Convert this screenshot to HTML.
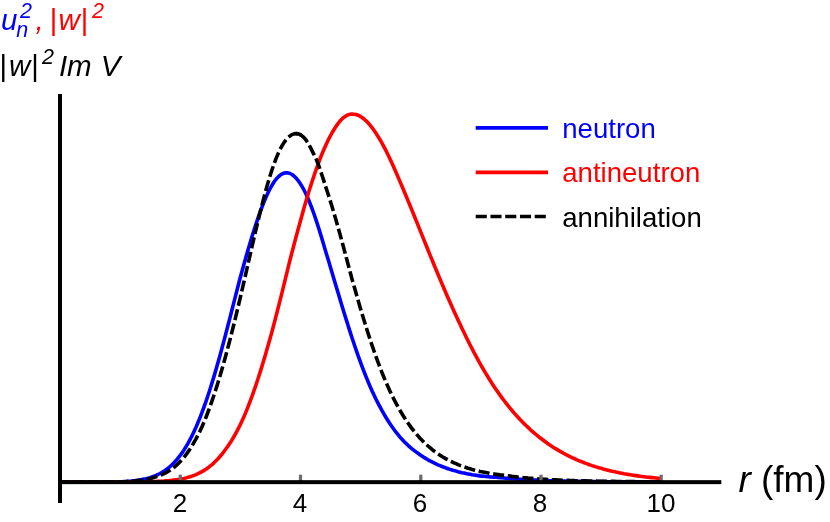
<!DOCTYPE html>
<html><head><meta charset="utf-8"><title>chart</title>
<style>
html,body{margin:0;padding:0;background:#fff;}
svg{display:block;}
text{font-family:"Liberation Sans",sans-serif;}
.it{font-style:italic;}
</style></head><body>
<svg width="830" height="522" viewBox="0 0 830 522" style="will-change:transform">
<rect width="830" height="522" fill="#fff"/>
<g fill="none" stroke-width="3.6" stroke-linejoin="round">
<path d="M60,482.0 62,482.0 64,482.0 66,482.0 68,482.0 70,482.0 72,482.0 74,482.0 76,482.0 78,482.0 80,482.0 82,482.0 84,482.0 86,482.0 88,482.0 90,482.0 92,482.0 94,482.0 96,482.0 98,481.9 100,481.9 102,481.9 104,481.9 106,481.9 108,481.9 110,481.9 112,481.9 114,481.9 116,481.9 118,481.8 120,481.8 122,481.7 124,481.6 126,481.5 128,481.4 130,481.2 132,481.0 134,480.8 136,480.5 138,480.2 140,479.9 142,479.5 144,479.1 146,478.7 148,478.2 150,477.6 152,476.9 154,476.2 156,475.4 158,474.5 160,473.5 162,472.4 164,471.1 166,469.7 168,468.2 170,466.6 172,464.7 174,462.7 176,460.6 178,458.2 180,455.7 182,452.9 184,449.9 186,446.7 188,443.3 190,439.6 192,435.7 194,431.6 196,427.2 198,422.5 200,417.6 202,412.4 204,407.0 206,401.4 208,395.5 210,389.3 212,382.9 214,376.4 216,369.6 218,362.6 220,355.4 222,348.1 224,340.6 226,333.0 228,325.3 230,317.6 232,309.8 234,301.9 236,294.1 238,286.3 240,278.5 242,271.2 244,264.0 246,256.9 248,250.0 250,243.2 252,236.6 254,230.2 256,224.0 258,218.1 260,212.4 262,207.0 264,201.9 266,197.2 268,192.8 270,188.8 272,185.2 274,182.0 276,179.3 278,177.1 280,175.3 282,174.0 284,173.1 286,172.8 288,172.9 290,173.5 292,174.5 294,176.0 296,178.0 298,180.4 300,183.2 302,186.4 304,190.0 306,194.0 308,198.5 310,203.3 312,208.5 314,214.0 316,219.9 318,226.0 320,232.4 322,239.0 324,245.8 326,252.5 328,259.1 330,265.7 332,272.4 334,279.2 336,285.9 338,292.6 340,299.3 342,305.9 344,312.5 346,318.9 348,325.3 350,331.6 352,337.7 354,343.7 356,349.6 358,355.3 360,360.9 362,366.3 364,371.5 366,376.6 368,381.5 370,386.3 372,390.8 374,395.0 376,399.2 378,403.1 380,406.9 382,410.6 384,414.1 386,417.5 388,420.7 390,423.8 392,426.7 394,429.5 396,432.2 398,434.7 400,437.1 402,439.3 404,441.4 406,443.4 408,445.3 410,447.1 412,448.8 414,450.4 416,451.9 418,453.3 420,454.7 422,456.1 424,457.4 426,458.6 428,459.8 430,460.9 432,461.9 434,462.9 436,463.9 438,464.8 440,465.6 442,466.5 444,467.2 446,468.0 448,468.7 450,469.4 452,470.0 454,470.6 456,471.1 458,471.7 460,472.2 462,472.7 464,473.1 466,473.5 468,473.9 470,474.3 472,474.7 474,475.0 476,475.3 478,475.6 480,475.9 482,476.1 484,476.3 486,476.5 488,476.7 490,476.9 492,477.0 494,477.2 496,477.3 498,477.4 500,477.6 502,477.8 504,478.0 506,478.2 508,478.3 510,478.5 512,478.7 514,478.8 516,479.0 518,479.1 520,479.3 522,479.4 524,479.5 526,479.6 528,479.7 530,479.8 532,479.9 534,480.0 536,480.1 538,480.2 540,480.3 542,480.4 544,480.5 546,480.5 548,480.6 550,480.7 552,480.7 554,480.8 556,480.8 558,480.9 560,481.0 562,481.0 564,481.0 566,481.1 568,481.1 570,481.2 572,481.2 574,481.3 576,481.3 578,481.3 580,481.4 582,481.4 584,481.4 586,481.4 588,481.5 590,481.5 592,481.5 594,481.5 596,481.6 598,481.6 600,481.6 602,481.6 604,481.6 606,481.7 608,481.7 610,481.7 612,481.7 614,481.7 616,481.7 618,481.7 620,481.8 622,481.8 624,481.8 626,481.8 628,481.8 630,481.8 632,481.8 634,481.8 636,481.8 638,481.8 640,481.8 642,481.9 644,481.9 646,481.9 648,481.9 650,481.9 652,481.9 654,481.9 656,481.9 658,481.9 660,481.9 661,481.9" stroke="#0000ff"/>
<path d="M60,482.0 62,482.0 64,482.0 66,482.0 68,482.0 70,482.0 72,482.0 74,482.0 76,482.0 78,482.0 80,482.0 82,482.0 84,482.0 86,482.0 88,482.0 90,482.0 92,482.0 94,482.0 96,482.0 98,482.0 100,482.0 102,482.0 104,482.0 106,482.0 108,482.0 110,482.0 112,482.0 114,482.0 116,482.0 118,482.0 120,482.0 122,482.0 124,482.0 126,482.0 128,481.9 130,481.9 132,481.9 134,481.9 136,481.9 138,481.9 140,481.9 142,481.8 144,481.8 146,481.8 148,481.7 150,481.7 152,481.6 154,481.6 156,481.5 158,481.4 160,481.3 162,481.2 164,481.1 166,480.9 168,480.8 170,480.6 172,480.4 174,480.1 176,479.8 178,479.5 180,479.2 182,478.8 184,478.4 186,477.9 188,477.3 190,476.8 192,476.1 194,475.4 196,474.6 198,473.7 200,472.7 202,471.6 204,470.4 206,469.2 208,467.8 210,466.2 212,464.6 214,462.8 216,460.8 218,458.8 220,456.5 222,454.1 224,451.5 226,448.8 228,446.0 230,443.0 232,439.9 234,436.5 236,433.0 238,429.2 240,425.2 242,421.0 244,416.6 246,411.9 248,406.9 250,401.7 252,396.3 254,390.7 256,384.8 258,378.8 260,372.6 262,366.1 264,359.5 266,352.8 268,345.8 270,338.7 272,331.4 274,324.0 276,316.3 278,308.5 280,300.6 282,292.6 284,284.5 286,276.3 288,268.1 290,260.0 292,252.3 294,244.7 296,237.1 298,229.7 300,222.4 302,215.2 304,208.1 306,201.2 308,194.5 310,188.0 312,181.7 314,175.7 316,169.8 318,164.3 320,159.0 322,153.9 324,149.2 326,144.7 328,140.4 330,136.5 332,132.9 334,129.5 336,126.4 338,123.6 340,121.1 342,119.0 344,117.2 346,115.9 348,114.9 350,114.3 352,114.1 354,114.2 356,114.5 358,115.2 360,116.2 362,117.5 364,119.0 366,120.8 368,122.8 370,125.1 372,127.6 374,130.3 376,133.3 378,136.4 380,139.7 382,143.2 384,146.9 386,150.7 388,154.8 390,159.0 392,163.3 394,167.7 396,172.3 398,176.9 400,181.6 402,186.3 404,191.0 406,195.8 408,200.6 410,205.5 412,210.4 414,215.3 416,220.2 418,225.1 420,230.1 422,235.1 424,240.1 426,245.0 428,250.0 430,254.9 432,259.8 434,264.7 436,269.5 438,274.3 440,279.1 442,283.8 444,288.5 446,293.2 448,297.8 450,302.3 452,306.8 454,311.2 456,315.6 458,319.9 460,324.1 462,328.4 464,332.6 466,336.7 468,340.8 470,344.7 472,348.6 474,352.5 476,356.2 478,359.9 480,363.5 482,367.0 484,370.4 486,373.8 488,377.0 490,380.2 492,383.4 494,386.4 496,389.4 498,392.3 500,395.1 502,397.9 504,400.5 506,403.1 508,405.7 510,408.1 512,410.5 514,412.9 516,415.1 518,417.3 520,419.5 522,421.5 524,423.6 526,425.5 528,427.4 530,429.3 532,431.1 534,432.8 536,434.5 538,436.2 540,437.8 542,439.3 544,440.8 546,442.3 548,443.7 550,445.1 552,446.4 554,447.7 556,448.9 558,450.1 560,451.3 562,452.4 564,453.5 566,454.6 568,455.6 570,456.6 572,457.6 574,458.5 576,459.4 578,460.3 580,461.1 582,461.9 584,462.7 586,463.4 588,464.2 590,464.9 592,465.6 594,466.2 596,466.9 598,467.5 600,468.1 602,468.6 604,469.2 606,469.7 608,470.2 610,470.7 612,471.2 614,471.6 616,472.1 618,472.5 620,472.9 622,473.3 624,473.7 626,474.0 628,474.4 630,474.7 632,475.0 634,475.4 636,475.6 638,475.9 640,476.2 642,476.5 644,476.7 646,477.0 648,477.2 650,477.4 652,477.6 654,477.8 656,478.0 658,478.2 660,478.4 661,478.5" stroke="#ff0000"/>
<path d="M60,482.0 62,482.0 64,482.0 66,482.0 68,482.0 70,482.0 72,482.0 74,482.0 76,482.0 78,482.0 80,482.0 82,482.0 84,482.0 86,482.0 88,482.0 90,482.0 92,482.0 94,482.0 96,482.0 98,482.0 100,482.0 102,482.0 104,482.0 106,482.0 108,482.0 110,482.0 112,481.9 114,481.9 116,481.9 118,481.9 120,481.9 122,481.8 124,481.7 126,481.6 128,481.4 130,481.3 132,481.1 134,481.0 136,480.8 138,480.5 140,480.3 142,480.0 144,479.6 146,479.2 148,478.8 150,478.4 152,477.9 154,477.4 156,476.8 158,476.1 160,475.4 162,474.6 164,473.7 166,472.7 168,471.5 170,470.3 172,468.9 174,467.4 176,465.7 178,463.8 180,461.8 182,459.6 184,457.3 186,454.7 188,451.9 190,449.0 192,445.8 194,442.4 196,438.9 198,435.0 200,431.0 202,426.7 204,422.1 206,417.2 208,412.0 210,406.6 212,400.9 214,395.0 216,388.9 218,382.5 220,375.9 222,369.0 224,362.0 226,354.7 228,347.2 230,339.6 232,331.8 234,323.8 236,315.6 238,307.2 240,298.8 242,290.2 244,281.5 246,272.8 248,264.0 250,255.3 252,246.6 254,237.9 256,229.4 258,221.1 260,212.9 262,204.9 264,197.2 266,189.8 268,182.7 270,176.0 272,169.8 274,163.9 276,158.6 278,153.9 280,149.6 282,145.8 284,142.6 286,139.9 288,137.6 290,135.9 292,134.6 294,133.9 296,133.6 298,133.8 300,134.5" stroke="#000" stroke-dasharray="11.1 3.65" stroke-dashoffset="1.8"/>
<path d="M296,133.6 298,133.8 300,134.5 301,135.1" stroke="#000"/>
<path d="M300,134.5 302,135.8 304,137.6 306,140.0 308,143.0 310,146.6 312,150.6 314,154.6 316,158.8 318,163.5 320,169.3 322,175.3 324,181.4 326,187.6 328,193.8 330,200.1 332,206.5 334,213.2 336,220.1 338,227.1 340,234.3 342,241.6 344,249.0 346,256.5 348,264.0 350,271.5 352,279.1 354,286.1 356,293.1 358,300.1 360,306.9 362,313.6 364,320.2 366,326.7 368,333.0 370,339.2 372,345.2 374,351.0 376,356.7 378,362.2 380,367.5 382,372.6 384,377.5 386,382.2 388,386.8 390,391.2 392,395.4 394,399.4 396,403.2 398,406.9 400,410.5 402,413.8 404,417.1 406,420.2 408,423.1 410,425.9 412,428.6 414,431.2 416,433.6 418,435.9 420,438.2 422,440.3 424,442.3 426,444.2 428,446.0 430,447.7 432,449.4 434,451.0 436,452.4 438,453.9 440,455.2 442,456.5 444,457.7 446,458.8 448,459.9 450,461.0 452,461.9 454,462.9 456,463.7 458,464.6 460,465.4 462,466.1 464,466.9 466,467.5 468,468.2 470,468.8 472,469.4 474,469.9 476,470.4 478,470.9 480,471.4 482,471.8 484,472.2 486,472.6 488,473.0 490,473.4 492,473.7 494,474.0 496,474.3 498,474.6 500,474.9 502,475.1 504,475.4 506,475.6 508,475.8 510,476.1 512,476.4 514,476.6 516,476.8 518,477.1 520,477.3 522,477.5 524,477.7 526,477.9 528,478.1 530,478.2 532,478.4 534,478.6 536,478.7 538,478.9 540,479.0 542,479.1 544,479.3 546,479.4 548,479.5 550,479.6 552,479.7 554,479.8 556,479.9 558,480.0 560,480.1 562,480.2 564,480.2 566,480.3 568,480.4 570,480.5 572,480.5 574,480.6 576,480.7 578,480.7 580,480.8 582,480.8 584,480.9 586,480.9 588,481.0 590,481.0 592,481.1 594,481.1 596,481.1 598,481.2 600,481.2 602,481.3 604,481.3 606,481.3 608,481.3 610,481.4 612,481.4 614,481.4 616,481.5 618,481.5 620,481.5 622,481.5 624,481.5 626,481.6 628,481.6 630,481.6 632,481.6 634,481.6 636,481.7 638,481.7 640,481.7 642,481.7 644,481.7 646,481.7 648,481.7 650,481.7 652,481.8 654,481.8 656,481.8 658,481.8 660,481.8 661,481.8" stroke="#000" stroke-dasharray="11.1 3.65" stroke-dashoffset="0.3"/>
</g>
<!-- axes -->
<g fill="#6c6c6c">
<rect x="178.7" y="474.7" width="3.2" height="7"/>
<rect x="298.9" y="474.7" width="3.2" height="7"/>
<rect x="419.2" y="474.7" width="3.2" height="7"/>
<rect x="539.4" y="474.7" width="3.2" height="7"/>
<rect x="659.6" y="474.7" width="3.2" height="7"/>
</g>
<rect x="58" y="94" width="4" height="409" fill="#000"/>
<rect x="58" y="480.15" width="663.3" height="4" fill="#000"/>
<g font-size="26" text-anchor="middle" fill="#000">
<text x="180" y="511.8">2</text>
<text x="300" y="511.8">4</text>
<text x="420" y="511.8">6</text>
<text x="540" y="511.8">8</text>
<text x="661" y="511.8">10</text>
</g>
<text x="738.4" y="491.7" font-size="37" fill="#000"><tspan class="it">r</tspan> (fm)</text>
<!-- legend -->
<g stroke-width="3.7" fill="none">
<line x1="475.7" y1="127.8" x2="548" y2="127.8" stroke="#0000ff"/>
<line x1="475.7" y1="172.3" x2="548" y2="172.3" stroke="#ff0000"/>
<line x1="475.7" y1="216.5" x2="548" y2="216.5" stroke="#000" stroke-dasharray="11.1 3.65"/>
</g>
<g font-size="27.6">
<text x="562.2" y="137.5" fill="#0000ff">neutron</text>
<text x="562.2" y="182.2" fill="#ff0000">antineutron</text>
<text x="562.2" y="226.5" fill="#000">annihilation</text>
</g>
<!-- titles -->
<g font-size="29.5" class="it">
<text id="u" x="0.9" y="29.8" fill="#0000ff">u</text>
<text id="s1" x="20.0" y="17.9" font-size="21.5" fill="#0000ff">2</text>
<text id="n" x="16.2" y="36.5" font-size="21.5" fill="#0000ff">n</text>
<text id="c" x="35.5" y="29.8" fill="#ff0000">,</text>
<text id="b1" x="49.3" y="29.8" fill="#ff0000">|</text>
<text id="w1" x="58.6" y="29.8" fill="#ff0000">w</text>
<text id="b2" x="80.2" y="29.8" fill="#ff0000">|</text>
<text id="s2" x="92.1" y="17.9" font-size="21.5" fill="#ff0000">2</text>
<text id="b3" x="-0.9" y="75.6" fill="#000">|</text>
<text id="w2" x="8.9" y="75.6" fill="#000">w</text>
<text id="b4" x="30.7" y="75.6" fill="#000">|</text>
<text id="s3" x="42.0" y="63.6" font-size="21.5" fill="#000">2</text>
<text id="im" x="58.9" y="75.6" fill="#000">Im</text>
<text id="v" x="100.8" y="75.6" fill="#000">V</text>
</g>
</svg>
</body></html>
